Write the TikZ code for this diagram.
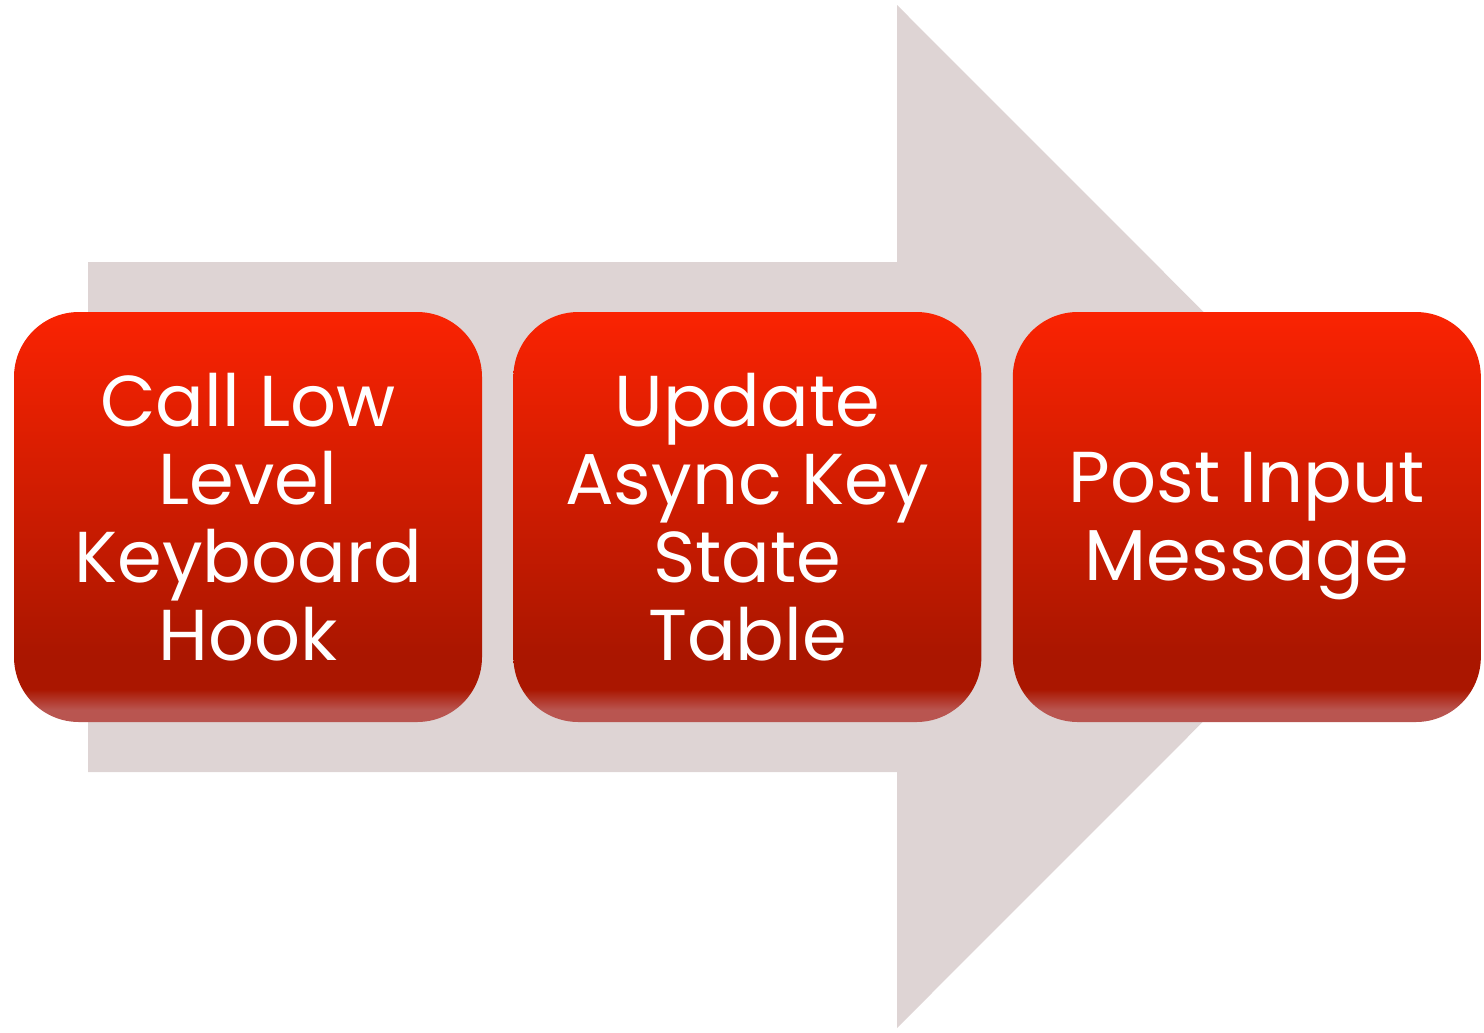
\documentclass[tikz,border=0pt]{standalone}
\usepackage{fontspec}
\setmainfont{Poppins}
\usetikzlibrary{positioning}

\definecolor{arrowgrey}{RGB}{222,212,212}
\definecolor{redtop}{RGB}{250,35,2}
\definecolor{reddeep}{RGB}{170,22,0}
\definecolor{redfoot}{RGB}{185,85,80}

% vertical shading of the three boxes, bottom to top
\pgfdeclareverticalshading{redglow}{100bp}{color(0bp)=(redfoot); color(25bp)=(redfoot);
  color(26.5bp)=(redfoot); color(29bp)=(reddeep); color(33bp)=(reddeep);
  color(75bp)=(redtop); color(100bp)=(redtop)}

\tikzset{
  keybox/.style={rectangle, rounded corners=0.65cm, minimum width=4.68cm,
    minimum height=4.10cm, shading=redglow, text=white, align=center,
    font=\fontsize{20.5}{22.2}\selectfont, inner sep=0pt}
}

\begin{document}
\begin{tikzpicture}
\useasboundingbox (0,0) rectangle (14.84,10.32);

% Big arrow in the back
\fill[arrowgrey] (0.88,7.70) -- (8.97,7.70) -- (8.97,10.27) -- (14.08,5.155)
  -- (8.97,0.04) -- (8.97,2.60) -- (0.88,2.60) -- cycle;

% The three steps
\node[keybox] (hook) at (2.48,5.15) {Call Low\\Level\\Keyboard\\Hook};
\node[keybox, right=0.30cm of hook] (table) {Update\\Async Key\\State\\Table};
\node[keybox, right=0.30cm of table, text height=1.46cm] (post) {Post Input\\Message};
\end{tikzpicture}
\end{document}
